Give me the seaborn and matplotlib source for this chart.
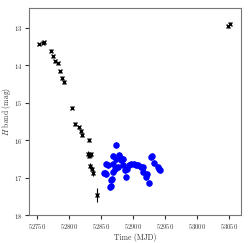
import matplotlib
matplotlib.use("Agg")
import matplotlib.pyplot as plt
import seaborn as sns
import numpy as np
import pandas as pd

# black points (early decline + late point)
black_mjd = [52753.6, 52759.8, 52761.8, 52772.0, 52775.7, 52778.8, 52782.5, 52786.0,
             52789.6, 52792.3, 52804.6, 52809.3, 52816.6, 52818.6, 52820.6, 52831.0,
             52829.9, 52831.4, 52832.5, 52835.0, 52833.6, 52836.0, 52838.2, 52843.8,
             53048.0, 53051.0]
black_mag = [13.44, 13.40, 13.37, 13.61, 13.76, 13.89, 13.94, 14.16,
             14.33, 14.45, 15.13, 15.56, 15.66, 15.76, 15.87, 15.99,
             16.36, 16.41, 16.40, 16.37, 16.69, 16.76, 16.88, 17.47,
             12.96, 12.89]
black_err = [0.03, 0.03, 0.03, 0.04, 0.04, 0.04, 0.04, 0.04,
             0.05, 0.05, 0.04, 0.05, 0.05, 0.05, 0.05, 0.05,
             0.06, 0.06, 0.06, 0.06, 0.07, 0.07, 0.08, 0.18,
             0.04, 0.04]

# blue points
blue_mjd = [52854.2, 52856.8, 52858.4, 52858.4, 52860.8, 52864.6, 52865.0, 52866.0,
            52867.6, 52868.6, 52868.6, 52868.6, 52871.3, 52872.7, 52873.8, 52876.3,
            52877.4, 52877.9, 52881.6, 52884.0, 52884.0, 52888.2, 52889.3, 52890.3,
            52894.4, 52897.0, 52901.0, 52904.8, 52907.3, 52912.5, 52915.0, 52915.0,
            52920.3, 52921.3, 52924.3, 52928.0, 52929.0, 52933.1, 52938.2, 52940.9,
            52942.0]
blue_mag = [16.88, 16.88, 16.63, 16.90, 16.67, 17.25, 17.22, 17.07,
            17.03, 16.43, 16.63, 16.85, 16.76, 16.49, 16.12, 16.72,
            16.43, 16.40, 16.54, 16.49, 16.67, 16.80, 16.98, 16.76,
            16.67, 16.63, 16.63, 16.67, 16.65, 16.72, 16.72, 16.85,
            16.98, 16.90, 17.14, 16.45, 16.43, 16.60, 16.72, 16.78,
            16.80]
blue_err = [0.08] * len(blue_mjd)

sns.set_style("ticks")
plt.rcParams['font.family'] = 'serif'
plt.rcParams['font.serif'] = ['cmr10', 'DejaVu Serif']
plt.rcParams['mathtext.fontset'] = 'cm'
plt.rcParams['axes.formatter.use_mathtext'] = True

fig = plt.figure(figsize=(2.5, 2.43), dpi=100)
ax = fig.add_axes([0.116, 0.115, 0.848, 0.852])

black = pd.DataFrame({"mjd": black_mjd, "mag": black_mag})
blue = pd.DataFrame({"mjd": blue_mjd, "mag": blue_mag})

ax.errorbar(black_mjd, black_mag, yerr=black_err, fmt="none", ecolor="black", elinewidth=0.8, capsize=0)
sns.scatterplot(data=black, x="mjd", y="mag", marker="x", color="black", s=8, linewidth=1.0, ax=ax)
ax.errorbar(blue_mjd, blue_mag, yerr=blue_err, fmt="none", ecolor="blue", elinewidth=1.0, capsize=0)
sns.scatterplot(data=blue, x="mjd", y="mag", marker="o", color="blue", s=22, linewidth=0, ax=ax)

ax.set_xlim(52738, 53068)
ax.set_ylim(18, 12.47)
ax.set_xticks([52750, 52800, 52850, 52900, 52950, 53000, 53050])
ax.set_yticks([13, 14, 15, 16, 17, 18])
ax.tick_params(labelsize=4.8, length=3, width=0.8, color="#333333", labelcolor="#333333", pad=2)
for sp in ax.spines.values():
    sp.set_color("#777777")
    sp.set_linewidth(0.8)
ax.set_xlabel("Time (MJD)", fontsize=5.5, labelpad=1.5, color="#333333")
ax.set_ylabel("$H$ band (mag)", fontsize=5.5, color="#333333")
ax.yaxis.set_label_coords(-0.075, 0.5)

fig.savefig("out.png", dpi=100)
